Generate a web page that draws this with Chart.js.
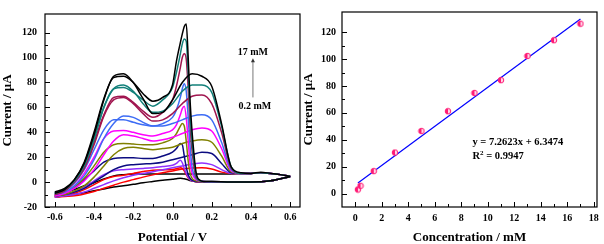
<!DOCTYPE html>
<html>
<head>
<meta charset="utf-8">
<script src="https://cdn.jsdelivr.net/npm/chart.js@4.4.0/dist/chart.umd.min.js"></script>
<style>
  body { margin: 0; background: #fff; }
  #wrap { position: relative; width: 604px; height: 244px; }
  canvas { position: absolute; top: 0; }
</style>
</head>
<body>
<div id="wrap">
  <canvas id="cv" width="302" height="244" style="left:0"></canvas>
  <canvas id="cal" width="302" height="244" style="left:302px"></canvas>
</div>
<script>
// potential grids (V) for the anodic (fwd) and cathodic (rev) sweeps
const vFwd = [-0.6,-0.55,-0.5,-0.45,-0.4,-0.35,-0.3,-0.25,-0.2,-0.15,-0.1,-0.05,0,0.05,0.1,0.15,0.2,0.25,0.3,0.35,0.4,0.45,0.5,0.55,0.6];
const vRev = [0.6,0.5,0.4,0.3,0.2,0.16,0.14,0.12,0.1,0.09,0.08,0.07,0.06,0.05,0.04,0.02,0,-0.05,-0.1,-0.15,-0.2,-0.25,-0.3,-0.35,-0.4,-0.45,-0.5,-0.55,-0.6];

// current (uA), lowest to highest concentration
const fwd02 = [-10,-8,-6,-3,-0.5,2.5,5,6,6.5,6.5,6.5,6.5,6.5,6.5,6.5,6.5,6.5,6.5,6.5,7,7,7.5,7,6,4.5];
const rev02 = [4.5,1,0,0,0,0,0,0.3,0.8,1.2,1.8,2.3,2.7,2.9,3,2.7,2.3,1.5,0.5,-0.5,-1.8,-3,-4,-5.5,-7,-8.5,-10,-11,-12];
const fwd04 = [-12,-11.5,-11,-9.5,-7.5,-5,-2.5,0,2,4,5.8,7.5,9,10.5,11.3,11.6,10.5,8,7,7,7,7.5,7,6,4.5];
const rev04 = [4.5,1,0,0,0,0,0.2,0.3,1,2,3.5,6,9,11,11.6,10.8,10.2,9.8,9.6,8.5,7,5.5,4.5,2,-2,-6,-9,-11,-12];
const fwd14 = [-12,-11,-10,-8,-5,-2,1,3.5,5.5,7,8.3,10,11.5,13,14.5,15.4,14,10,7,7,7,7.5,7,6,4.5];
const rev14 = [4.5,1,0,0,0,0,0.3,0.5,1,2,4,7,11,15.5,17.5,15,13.5,12.5,11.6,11,10.5,10,9,6,1,-4,-8,-10.5,-12];
const fwd3 = [-11,-10,-8,-5,0,5,10,13,14,14.5,15,16,18,20,22,24,23,15,7.5,7,7,7.5,7,6,4.5];
const rev3 = [4.5,1,0,0,0,0.3,0.5,0.5,1.5,3,6,12,21,30,31,27,24,21,19,19,19.5,19.5,19,16,9,2,-5,-9,-11];
const fwd5 = [-11,-10,-7,-3,4,13,22,27,28,27,26,27,28,31,33,34,32,21,8,7,7,7.5,7,6,4.5];
const rev5 = [4.5,1,0,0,0,0.3,0.5,1,3,7,17,33,45,47,45,39,35,31.5,30,30,30.5,31,30,24,13,3,-4,-9,-11];
const fwd7 = [-11,-9,-5,1,10,22,33,38,37,35,33,34,36,39,42,43.5,41,27,9,7,7,7.5,7,6,4.5];
const rev7 = [4.5,1,0,0,0,0.5,1,2,7,15,33,52,61,59,54,46,42,39,37,38,40,41.5,41,35,20,7,-3,-9,-11];
const fwd9 = [-10,-8,-3,5,18,35,47,53,52,48,45,45,47,50,53,54,50,32,10,7,7,7.5,7,6,4.5];
const rev9 = [4.5,1,0,0,0,0.5,1,3,12,28,52,73,79,75,68,58,52,47,45,46,48,50,50,42,26,10,-1,-7,-10];
const fwd13 = [-10,-7,0,11,30,53,66,68,63,55,49,50,55,63,69,70,63,40,11,7,7,7.5,7,6,4.5];
const rev13 = [4.5,1,0,0,0.5,0.5,1,4,25,45,75,99,103,100,92,77,66,56,52,57,64,69,68,54,32,12,0,-7,-10];
const fwd15 = [-9,-6,1,13,34,60,75,78,73,63,56,57,63,73,78,78,72,45,12,7,7,7.5,7,6,4.5];
const rev15 = [4.5,1,0,0,0.5,0.5,1.2,6,32,55,88,113,115,111,103,88,76,66,61,66,72,76,75,60,36,14,1,-6,-9];
const fwd17 = [-8,-5,2,15,38,66,85,87,80,67,55,56,66,80,87,85,77,47,12,7.5,7,8,7,6,4.5];
const rev17 = [4.5,1,0,0,0.5,0.5,1.5,8,40,64,100,127,125,119,112,97,78,68,65,71,80,85,84,67,40,16,2,-6,-9];

const cvColors = ['#000000','#ff0000','#9030ff','#0b0b80','#808000','#ff00ff','#3d6cf5','#a0154f','#12807a','#000000'];
const cvCurves = [[fwd02,rev02],[fwd04,rev04],[fwd14,rev14],[fwd3,rev3],[fwd5,rev5],[fwd7,rev7],[fwd9,rev9],[fwd13,rev13],[fwd15,rev15],[fwd17,rev17]];

// calibration plot
const conc = [0.2, 0.4, 1.4, 3, 5, 7, 9, 11, 13, 15, 17];
const peakCurrent = [3, 5.8, 16.7, 30.5, 46.5, 61.2, 74.8, 84.3, 102.3, 114, 126.3];
const fitSlope = 7.2623, fitIntercept = 6.3474;

const serif = "'Liberation Serif', 'Times New Roman', serif";
const tickFont = { family: serif, size: 10, weight: 'bold' };
const titleFont = { family: serif, size: 13, weight: 'bold', lineHeight: 1 };

function pairs(xs, ys) { return xs.map((x, i) => ({ x: x, y: ys[i] })); }

// box frame plus inward major/minor ticks on bottom and left
const frameTicks = {
  id: 'frameTicks',
  afterDraw(chart) {
    const { ctx, chartArea: a, scales: { x, y } } = chart;
    ctx.save();
    ctx.strokeStyle = '#000';
    ctx.lineWidth = 1.2;
    ctx.strokeRect(a.left, a.top, a.right - a.left, a.bottom - a.top);
    ctx.lineWidth = 1;
    ctx.beginPath();
    const xs = x.ticks.map(t => t.value), ys = y.ticks.map(t => t.value);
    xs.forEach((v, i) => {
      const px = Math.round(x.getPixelForValue(v)) + 0.5;
      ctx.moveTo(px, a.bottom); ctx.lineTo(px, a.bottom - 5);
      if (i < xs.length - 1) {
        const pm = Math.round(x.getPixelForValue((v + xs[i + 1]) / 2)) + 0.5;
        ctx.moveTo(pm, a.bottom); ctx.lineTo(pm, a.bottom - 3);
      }
    });
    ys.forEach((v, i) => {
      const py = Math.round(y.getPixelForValue(v)) + 0.5;
      ctx.moveTo(a.left, py); ctx.lineTo(a.left + 5, py);
      if (i < ys.length - 1) {
        const pm = Math.round(y.getPixelForValue((v + ys[i + 1]) / 2)) + 0.5;
        ctx.moveTo(a.left, pm); ctx.lineTo(a.left + 3, pm);
      }
    });
    ctx.stroke();
    ctx.restore();
  }
};

const cvNotes = {
  id: 'cvNotes',
  afterDraw(chart) {
    const { ctx, scales: { x, y } } = chart;
    ctx.save();
    ctx.fillStyle = '#000';
    ctx.font = 'bold 10px ' + serif;
    ctx.textAlign = 'center';
    ctx.textBaseline = 'middle';
    const ax = x.getPixelForValue(0.41);
    ctx.fillText('17 mM', ax, y.getPixelForValue(104));
    ctx.fillText('0.2 mM', ax + 2, y.getPixelForValue(61));
    ctx.strokeStyle = '#555';
    ctx.lineWidth = 0.8;
    const y0 = y.getPixelForValue(68), y1 = y.getPixelForValue(97);
    ctx.beginPath(); ctx.moveTo(ax, y0); ctx.lineTo(ax, y1); ctx.stroke();
    ctx.fillStyle = '#333';
    ctx.beginPath(); ctx.moveTo(ax, y1 - 3); ctx.lineTo(ax - 2, y1 + 1); ctx.lineTo(ax + 2, y1 + 1); ctx.closePath(); ctx.fill();
    ctx.restore();
  }
};

const calNotes = {
  id: 'calNotes',
  afterDraw(chart) {
    const { ctx, scales: { x, y } } = chart;
    ctx.save();
    ctx.fillStyle = '#000';
    ctx.font = 'bold 10.5px ' + serif;
    ctx.textBaseline = 'middle';
    const tx = x.getPixelForValue(8.85);
    ctx.fillText('y = 7.2623x + 6.3474', tx, y.getPixelForValue(37.8));
    const ry = y.getPixelForValue(27.9);
    ctx.fillText('R', tx, ry);
    const rw = ctx.measureText('R').width;
    ctx.font = 'bold 7px ' + serif;
    ctx.fillText('2', tx + rw, ry - 3);
    const sw = ctx.measureText('2').width;
    ctx.font = 'bold 10.5px ' + serif;
    ctx.fillText(' = 0.9947', tx + rw + sw, ry);
    ctx.restore();
  }
};

// half-filled circle marker
const dot = document.createElement('canvas');
dot.width = 8; dot.height = 8;
const dc = dot.getContext('2d');
dc.beginPath(); dc.arc(4, 4, 2.8, 0, Math.PI * 2); dc.fillStyle = '#ffd6e6'; dc.fill();
dc.beginPath(); dc.arc(4, 4, 2.8, Math.PI / 2, Math.PI * 1.5); dc.fillStyle = '#ff1a75'; dc.fill();
dc.beginPath(); dc.arc(4, 4, 2.8, 0, Math.PI * 2); dc.strokeStyle = '#ff1a75'; dc.lineWidth = 1; dc.stroke();

const cvSets = [];
for (let i = cvCurves.length - 1; i >= 0; i--) {
  const [f, r] = cvCurves[i];
  [pairs(vFwd, f), pairs(vRev, r)].forEach(d => cvSets.push({
    data: d, showLine: true, borderColor: cvColors[i], borderWidth: 1.5,
    pointRadius: 0, cubicInterpolationMode: 'monotone'
  }));
}

function axis(min, max, step, fix, fit, pad, title) {
  return {
    type: 'linear', min: min, max: max,
    afterFit: fit,
    grid: { display: false, drawTicks: false },
    border: { display: false },
    ticks: { stepSize: step, includeBounds: false, padding: pad, color: '#000', font: tickFont,
      callback: v => v.toFixed(fix) },
    title: { display: true, text: title, color: '#000', font: titleFont, padding: { top: 1, bottom: 0 } }
  };
}

new Chart(document.getElementById('cv'), {
  type: 'scatter',
  data: { datasets: cvSets },
  options: {
    responsive: false,
    animation: false,
    layout: { padding: { top: 2, right: 2, left: 0, bottom: 0 } },
    plugins: { legend: { display: false }, tooltip: { enabled: false } },
    scales: {
      x: axis(-0.65, 0.65, 0.2, 1, s => { s.height = 37; }, 4, 'Potential / V'),
      y: axis(-20, 135, 20, 0, s => { s.width = 45; }, 8, 'Current / \u03bcA')
    }
  },
  plugins: [frameTicks, cvNotes]
});

const calY = axis(-10, 135, 20, 0, s => { s.width = 40; }, 6, 'Current / \u03bcA');
calY.title.padding = { top: 0, bottom: 0 };

new Chart(document.getElementById('cal'), {
  type: 'scatter',
  data: {
    datasets: [
      { data: pairs(conc, peakCurrent), pointStyle: dot, pointRadius: 4 },
      { data: [conc[0], conc[conc.length - 1]].map(c => ({ x: c, y: fitSlope * c + fitIntercept })),
        showLine: true, borderColor: '#0000ff', borderWidth: 1.2, pointRadius: 0 }
    ]
  },
  options: {
    responsive: false,
    animation: false,
    layout: { padding: { top: 3, right: 7, left: 0, bottom: 0 } },
    plugins: { legend: { display: false }, tooltip: { enabled: false } },
    scales: {
      x: axis(-1, 18.25, 2, 0, s => { s.height = 37; }, 5, 'Concentration / mM'),
      y: calY
    }
  },
  plugins: [frameTicks, calNotes]
});
</script>
</body>
</html>
